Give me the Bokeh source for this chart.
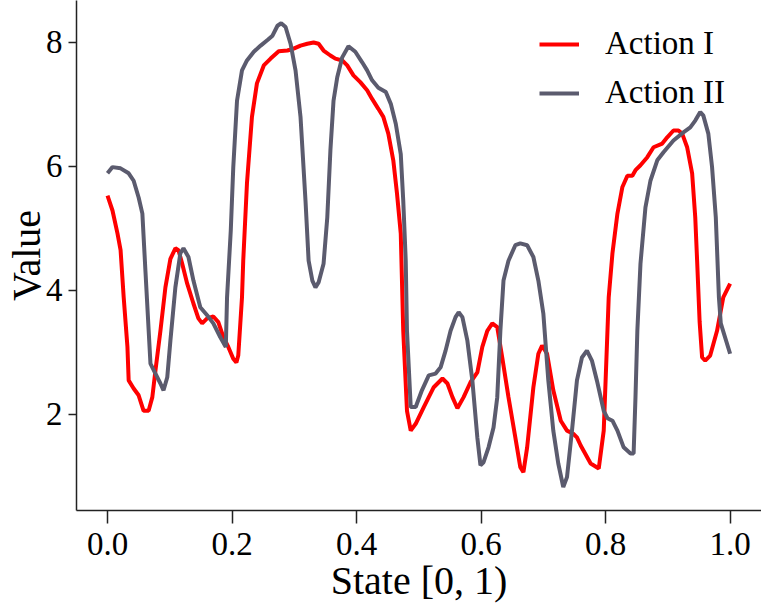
from bokeh.plotting import figure
from bokeh.embed import file_html
from bokeh.resources import INLINE
from bokeh.models import Range1d, FixedTicker, Legend, LegendItem

# Action I (red)
x_action1 = [0.000, 0.008, 0.016, 0.021, 0.026, 0.032, 0.034, 0.042, 0.050, 0.058,
             0.066, 0.072, 0.077, 0.085, 0.093, 0.101, 0.109, 0.114, 0.120, 0.128,
             0.138, 0.146, 0.152, 0.160, 0.170, 0.178, 0.186, 0.194, 0.202, 0.207,
             0.210, 0.216, 0.218, 0.224, 0.232, 0.240, 0.251, 0.262, 0.275, 0.289,
             0.299, 0.310, 0.321, 0.331, 0.339, 0.347, 0.358, 0.366, 0.377, 0.385,
             0.395, 0.406, 0.417, 0.425, 0.435, 0.443, 0.451, 0.459, 0.465, 0.471,
             0.475, 0.481, 0.487, 0.495, 0.508, 0.524, 0.538, 0.546, 0.554, 0.562,
             0.572, 0.583, 0.594, 0.602, 0.610, 0.618, 0.626, 0.634, 0.644, 0.655,
             0.663, 0.668, 0.674, 0.684, 0.692, 0.698, 0.706, 0.716, 0.728, 0.738,
             0.748, 0.754, 0.760, 0.776, 0.789, 0.797, 0.805, 0.811, 0.819, 0.827,
             0.835, 0.843, 0.848, 0.856, 0.867, 0.877, 0.891, 0.899, 0.909, 0.917,
             0.923, 0.931, 0.939, 0.944, 0.947, 0.951, 0.955, 0.960, 0.968, 0.979,
             0.989, 1.000]
y_action1 = [5.53, 5.29, 4.92, 4.65, 3.89, 3.09, 2.55, 2.42, 2.31, 2.06,
             2.06, 2.28, 2.71, 3.35, 4.05, 4.51, 4.68, 4.65, 4.43, 4.11,
             3.79, 3.55, 3.47, 3.55, 3.58, 3.49, 3.25, 3.09, 2.90, 2.84,
             2.95, 3.89, 4.48, 5.73, 6.80, 7.34, 7.63, 7.74, 7.86, 7.87,
             7.90, 7.95, 7.98, 8.00, 7.98, 7.87, 7.79, 7.74, 7.71, 7.63,
             7.47, 7.36, 7.23, 7.09, 6.93, 6.80, 6.53, 6.10, 5.56, 4.92,
             3.35, 2.06, 1.74, 1.85, 2.12, 2.44, 2.58, 2.50, 2.28, 2.10,
             2.28, 2.52, 2.68, 3.09, 3.35, 3.47, 3.41, 2.92, 2.28, 1.63,
             1.15, 1.07, 1.47, 2.44, 2.98, 3.11, 2.98, 2.39, 1.90, 1.74,
             1.69, 1.63, 1.50, 1.21, 1.13, 1.74, 3.89, 4.60, 5.24, 5.67,
             5.85, 5.85, 5.94, 6.02, 6.15, 6.31, 6.37, 6.47, 6.58, 6.58,
             6.53, 6.31, 5.89, 5.18, 4.48, 3.50, 2.92, 2.87, 2.95, 3.35,
             3.89, 4.11]

# Action II (grey)
x_action2 = [0.000, 0.008, 0.021, 0.034, 0.042, 0.050, 0.056, 0.061, 0.069, 0.077,
             0.085, 0.090, 0.096, 0.101, 0.109, 0.117, 0.122, 0.130, 0.138, 0.149,
             0.160, 0.170, 0.181, 0.190, 0.192, 0.198, 0.202, 0.208, 0.216, 0.224,
             0.235, 0.246, 0.257, 0.265, 0.273, 0.279, 0.286, 0.294, 0.302, 0.310,
             0.318, 0.323, 0.329, 0.334, 0.339, 0.347, 0.353, 0.358, 0.363, 0.369,
             0.377, 0.387, 0.398, 0.409, 0.417, 0.425, 0.435, 0.447, 0.455, 0.463,
             0.471, 0.475, 0.479, 0.481, 0.487, 0.495, 0.505, 0.516, 0.527, 0.535,
             0.543, 0.551, 0.559, 0.564, 0.570, 0.578, 0.586, 0.594, 0.599, 0.604,
             0.612, 0.620, 0.626, 0.631, 0.636, 0.644, 0.655, 0.663, 0.674, 0.684,
             0.692, 0.700, 0.708, 0.716, 0.724, 0.732, 0.738, 0.746, 0.754, 0.762,
             0.770, 0.778, 0.786, 0.797, 0.803, 0.811, 0.819, 0.829, 0.840, 0.845,
             0.848, 0.851, 0.856, 0.864, 0.872, 0.883, 0.893, 0.909, 0.925, 0.936,
             0.944, 0.952, 0.957, 0.965, 0.971, 0.977, 0.982, 0.985, 1.000]
y_action2 = [5.89, 5.99, 5.97, 5.89, 5.77, 5.50, 5.24, 4.30, 2.82, 2.66,
             2.50, 2.39, 2.60, 3.19, 4.05, 4.60, 4.68, 4.54, 4.16, 3.73,
             3.60, 3.47, 3.25, 3.09, 3.89, 4.97, 5.99, 7.06, 7.55, 7.71,
             7.85, 7.95, 8.04, 8.11, 8.27, 8.31, 8.25, 7.98, 7.55, 6.80,
             5.45, 4.48, 4.16, 4.05, 4.13, 4.43, 5.18, 6.26, 7.06, 7.44,
             7.76, 7.94, 7.85, 7.68, 7.55, 7.39, 7.27, 7.20, 7.01, 6.69,
             6.20, 5.45, 4.48, 3.35, 2.12, 2.12, 2.39, 2.63, 2.66, 2.76,
             3.03, 3.35, 3.57, 3.65, 3.57, 3.19, 2.55, 1.63, 1.18, 1.23,
             1.47, 1.79, 2.28, 3.35, 4.16, 4.48, 4.73, 4.76, 4.73, 4.54,
             4.16, 3.63, 2.55, 1.74, 1.21, 0.83, 0.99, 1.74, 2.55, 2.92,
             3.03, 2.87, 2.55, 2.06, 1.94, 1.90, 1.74, 1.47, 1.37, 1.37,
             2.28, 3.35, 4.43, 5.34, 5.77, 6.10, 6.23, 6.42, 6.55, 6.63,
             6.74, 6.88, 6.82, 6.53, 5.99, 5.18, 3.89, 3.47, 2.98]

x_ticks = [0.0, 0.2, 0.4, 0.6, 0.8, 1.0]
x_tick_labels = ["0.0", "0.2", "0.4", "0.6", "0.8", "1.0"]
y_ticks = [2, 4, 6, 8]
y_tick_labels = ["2", "4", "6", "8"]
series_names = ["Action I", "Action II"]
series_colors = ["#ff0000", "#5b5b6e"]

FONT = "Liberation Serif"

p = figure(width=761, height=609, output_backend="svg", toolbar_location=None,
           x_range=Range1d(-0.0498, 1.0504), y_range=Range1d(0.4516, 8.677))
p.min_border_top = 0
p.min_border_right = 0
p.min_border_left = 76
p.min_border_bottom = 99
p.outline_line_color = None
p.background_fill_color = "white"
p.border_fill_color = "white"
p.xgrid.visible = False
p.ygrid.visible = False

r1 = p.line(x_action1, y_action1, line_color=series_colors[0], line_width=4)
r2 = p.line(x_action2, y_action2, line_color=series_colors[1], line_width=4)

for ax in (p.xaxis[0], p.yaxis[0]):
    ax.axis_line_color = "#222222"
    ax.axis_line_width = 1.5
    ax.major_tick_line_color = "#222222"
    ax.major_tick_line_width = 1.5
    ax.minor_tick_line_color = None
    ax.major_tick_in = 0
    ax.major_label_text_font = FONT
    ax.major_label_text_font_size = "33px"
    ax.major_label_text_color = "black"
    ax.axis_label_text_font = FONT
    ax.axis_label_text_font_size = "40px"
    ax.axis_label_text_font_style = "normal"
    ax.axis_label_text_color = "black"

p.xaxis[0].ticker = FixedTicker(ticks=x_ticks)
p.xaxis[0].major_label_overrides = {t: l for t, l in zip(x_ticks, x_tick_labels)}
p.xaxis[0].major_tick_out = 13
p.xaxis[0].major_label_standoff = 9
p.xaxis[0].axis_label = "State [0, 1)"
p.xaxis[0].axis_label_standoff = 0

p.yaxis[0].ticker = FixedTicker(ticks=y_ticks)
p.yaxis[0].major_label_overrides = {t: l for t, l in zip(y_ticks, y_tick_labels)}
p.yaxis[0].major_tick_out = 8
p.yaxis[0].major_label_standoff = 6
p.yaxis[0].axis_label = "Value"
p.yaxis[0].axis_label_standoff = -6

legend = Legend(items=[LegendItem(label=series_names[0], renderers=[r1]),
                       LegendItem(label=series_names[1], renderers=[r2])],
                location="top_right")
legend.border_line_color = None
legend.background_fill_alpha = 0
legend.label_text_font = FONT
legend.label_text_font_size = "33px"
legend.label_text_color = "black"
legend.glyph_width = 40
legend.label_standoff = 26
legend.label_width = 131
legend.spacing = 12
legend.padding = 10
legend.margin = 25
p.add_layout(legend)

open("out.html", "w").write(file_html(p, INLINE))
